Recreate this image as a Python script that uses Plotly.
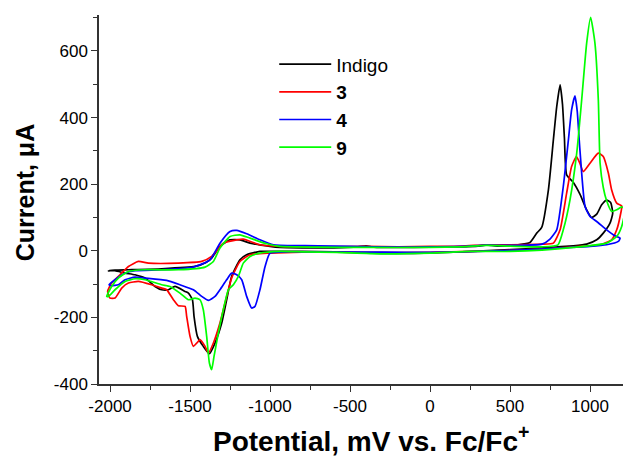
import plotly.graph_objects as go

# ---------------- data (potential mV, current uA), closed CV loops ----------------
indigo_x = [-2010, -1969, -1885, -1677, -1469, -1400, -1365, -1313, -1250, -1188, -1125, -1000, -938,
            -800, -600, -450, -400, -350, -200, 0, 200, 300, 354, 420, 550, 625, 667, 698, 740, 771,
            792, 813, 828, 840, 854, 896, 937, 979, 1010, 1042, 1073, 1104, 1129, 1142, 1125, 1083,
            1042, 979, 896, 800, 600, 400, 200, 0, -200, -400, -600, -800, -938, -1063, -1146, -1188,
            -1240, -1271, -1302, -1344, -1379, -1417, -1454, -1475, -1485, -1510, -1531, -1594, -1635,
            -1677, -1719, -1781, -1844, -1906, -1969, -2010]
indigo_y = [-60, -58, -57, -54, -47, -35, -22, 13, 33, 33, 23, 13, 10,
            9, 9, 12, 15, 11, 10, 11, 12, 14, 18, 14, 18, 25, 53, 70, 183, 333,
            433, 498, 440, 340, 228, 205, 170, 123, 100, 110, 138, 152, 145, 113, 83, 53,
            33, 20, 15, 12, 6, 1, -3, -6, -8, -6, -3, -2, -2, -2, -12, -27,
            -77, -147, -217, -277, -309, -287, -257, -197, -147, -127, -122, -107, -117,
            -117, -107, -82, -72, -67, -60, -60]

c3_x = [-2015, -1990, -1938, -1885, -1823, -1760, -1573, -1427, -1365, -1292, -1208, -1167, -1063, -938,
        -700, -400, -200, 0, 200, 350, 500, 700, 771, 813, 854, 885, 915, 935, 958, 1000, 1052, 1083,
        1115, 1135, 1167, 1198, 1188, 1167, 1135, 1063, 900, 700, 400, 0, -400, -800, -1000, -1125,
        -1188, -1240, -1271, -1313, -1354, -1385, -1406, -1438, -1458, -1479, -1500, -1521, -1531,
        -1573, -1604, -1646, -1677, -1740, -1823, -1885, -1927, -1969, -2000, -2015]
c3_y = [-122, -97, -72, -47, -32, -37, -37, -32, -17, 23, 33, 35, 18, 13,
        12, 13, 12, 13, 14, 18, 18, 20, 23, 63, 173, 253, 283, 265, 238, 263, 293, 283,
        233, 183, 143, 135, 103, 63, 33, 18, 12, 5, 0, -5, -5, -4, -7, -12,
        -32, -82, -137, -217, -277, -307, -287, -267, -277, -287, -257, -197, -167,
        -165, -147, -117, -112, -102, -92, -97, -112, -142, -142, -122]

c4_x = [-2006, -1969, -1906, -1844, -1677, -1479, -1375, -1313, -1250, -1208, -1146, -1063, -979, -938,
        -700, -500, -200, 0, 200, 350, 500, 700, 750, 792, 833, 865, 885, 906, 920, 937, 969,
        1000, 1042, 1104, 1156, 1188, 1177, 1104, 1000, 800, 600, 300, 0, -300, -600, -900, -1000,
        -1031, -1063, -1094, -1115, -1146, -1177, -1208, -1240, -1271, -1313, -1344, -1385, -1427,
        -1479, -1563, -1646, -1781, -1844, -1906, -1948, -1990, -2006]
c4_y = [-102, -87, -67, -60, -57, -49, -27, 23, 58, 61, 51, 33, 18, 16,
        15, 13, 11, 12, 13, 17, 16, 20, 35, 63, 193, 333, 423, 465, 420, 303, 133,
        103, 88, 63, 45, 38, 28, 18, 13, 8, 3, -2, -5, -4, -4, -3, -7,
        -47, -117, -167, -172, -137, -87, -72, -67, -87, -117, -137, -149, -137,
        -117, -102, -89, -82, -79, -87, -102, -105, -102]

c9_x = [-2021, -1990, -1948, -1885, -1781, -1573, -1406, -1354, -1313, -1250, -1188, -1125, -1021, -938,
        -700, -400, 0, 200, 350, 500, 700, 800, 833, 875, 917, 948, 979, 1004, 1031, 1052, 1063,
        1083, 1104, 1135, 1167, 1198, 1219, 1198, 1167, 1104, 896, 700, 500, 250, 0, -313, -583,
        -800, -938, -1063, -1125, -1167, -1198, -1229, -1260, -1292, -1323, -1350, -1365, -1379,
        -1396, -1417, -1438, -1469, -1510, -1563, -1625, -1677, -1781, -1844, -1906, -1969, -2010, -2021]
c9_y = [-137, -107, -82, -62, -57, -57, -49, -32, 8, 43, 48, 38, 21, 13,
        11, 10, 10, 12, 16, 14, 12, 18, 63, 153, 293, 453, 623, 701, 623, 453, 263,
        190, 150, 118, 123, 132, 125, 73, 43, 23, 10, 2, -2, -2, -7, -9, -5,
        -3, -2, -7, -17, -37, -77, -102, -117, -177, -247, -317, -357, -337,
        -257, -177, -147, -142, -147, -127, -107, -102, -87, -84, -92, -117, -137, -137]

series_names = ["Indigo", "<b>3</b>", "<b>4</b>", "<b>9</b>"]
series_colors = ["#000000", "#FF0000", "#0000FF", "#00FF00"]

x_tickvals = [-2000, -1500, -1000, -500, 0, 500, 1000]
x_ticktext = ["-2000", "-1500", "-1000", "-500", "0", "500", "1000"]
y_tickvals = [-400, -200, 0, 200, 400, 600]
y_ticktext = ["-400", "-200", "0", "200", "400", "600"]

FONT = "Liberation Sans, Arial, sans-serif"

fig = go.Figure()
for xs, ys, name, col in zip([indigo_x, c3_x, c4_x, c9_x], [indigo_y, c3_y, c4_y, c9_y],
                             series_names, series_colors):
    fig.add_trace(go.Scatter(x=xs, y=ys, mode="lines", name=name,
                             line=dict(color=col, width=1.7, shape="spline", smoothing=0.5)))

axis_common = dict(showline=True, linecolor="#333333", linewidth=1.5, showgrid=False, zeroline=False,
                   ticks="outside", ticklen=6, tickwidth=1.3, tickcolor="#333333",
                   tickfont=dict(family=FONT, size=17, color="#000000"), tickmode="array")

fig.update_xaxes(range=[-2069, 1250], tickvals=x_tickvals, ticktext=x_ticktext,
                 minor=dict(tickmode="linear", tick0=0, dtick=250, ticks="outside", ticklen=4,
                            tickcolor="#333333", tickwidth=1.2), **axis_common)
fig.update_yaxes(range=[-400, 708], tickvals=y_tickvals, ticktext=y_ticktext,
                 minor=dict(tickmode="linear", tick0=0, dtick=100, ticks="outside", ticklen=4,
                            tickcolor="#333333", tickwidth=1.2), **axis_common)

fig.add_annotation(text="<b>Potential, mV vs. Fc/Fc<sup>+</sup></b>", xref="paper", yref="paper",
                   x=0.512, y=-0.148, xanchor="center", yanchor="middle", showarrow=False,
                   font=dict(family=FONT, size=28, color="#000000"))
fig.add_annotation(text="<b>Current, μA</b>", xref="paper", yref="paper", textangle=-90,
                   x=-0.139, y=0.52, xanchor="center", yanchor="middle", showarrow=False,
                   font=dict(family=FONT, size=25, color="#000000"))

# page body has an 8px margin, so the figure is sized 623x448 and placed at (8, 8)
fig.update_layout(
    width=623, height=448,
    margin=dict(l=91, r=1, t=7, b=72),
    plot_bgcolor="white", paper_bgcolor="white",
    showlegend=True,
    legend=dict(x=0.33, y=0.918, xanchor="left", yanchor="top", bgcolor="rgba(0,0,0,0)",
                font=dict(family=FONT, size=19, color="#000000"), itemwidth=52,
                tracegroupgap=0),
)

fig.write_html("out.html")
